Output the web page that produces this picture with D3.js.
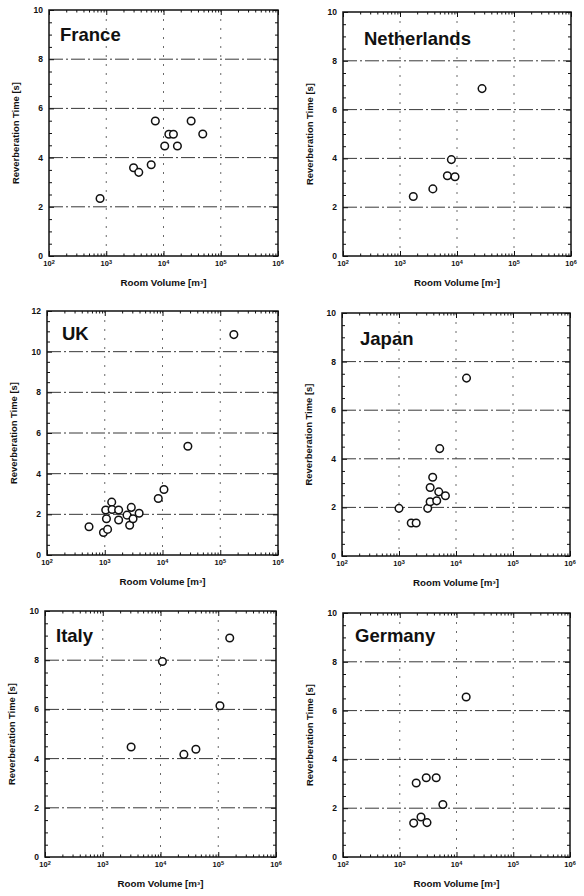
<!DOCTYPE html>
<html>
<head>
<meta charset="utf-8">
<script src="https://cdn.jsdelivr.net/npm/d3@7"></script>
<style>
  body { margin: 0; background: #fff; }
  text { font-family: "Liberation Sans", Arial, sans-serif; fill: #111; }
</style>
</head>
<body>
<svg id="fig" width="584" height="896"></svg>
<script>
// Data (room volume in m3, reverberation time in s)
const countries = ["France", "Netherlands", "UK", "Japan", "Italy", "Germany"];

const franceVol = [780, 3000, 3700, 6100, 7200, 10500, 12400, 14900, 17500, 30400, 48500];
const franceRT  = [2.34, 3.59, 3.40, 3.71, 5.49, 4.47, 4.95, 4.95, 4.47, 5.49, 4.96];

const netherlandsVol = [1710, 3770, 6780, 7960, 9220, 27500];
const netherlandsRT  = [2.44, 2.75, 3.29, 3.95, 3.25, 6.86];

const ukVol = [534, 1040, 1070, 950, 1120, 1320, 1340, 1740, 1740, 2430, 2700, 2880, 3090, 3940, 8450, 10600, 27500, 172000];
const ukRT  = [1.39, 2.21, 1.78, 1.11, 1.26, 2.60, 2.24, 2.21, 1.72, 1.96, 1.46, 2.34, 1.78, 2.05, 2.78, 3.22, 5.35, 10.84];

const japanVol = [1000, 1640, 2000, 3190, 3520, 3520, 3900, 4590, 4980, 6520, 5180, 15300];
const japanRT  = [1.96, 1.36, 1.36, 1.96, 2.23, 2.82, 3.24, 2.27, 2.64, 2.48, 4.42, 7.32];

const italyVol = [3100, 10800, 25400, 41000, 107000, 158000];
const italyRT  = [4.47, 7.95, 4.17, 4.38, 6.15, 8.90];

const germanyVol = [1950, 2930, 4390, 5750, 1760, 2370, 3020, 14800];
const germanyRT  = [3.03, 3.25, 3.25, 2.15, 1.39, 1.64, 1.41, 6.56];

const yMax = [10, 10, 12, 10, 10, 10];
const decades = [100, 1000, 10000, 100000, 1000000];
const xLabel = "Room Volume  [m\u00b3]";
const yLabel = "Reverberation Time  [s]";

const volumes = [franceVol, netherlandsVol, ukVol, japanVol, italyVol, germanyVol];
const times = [franceRT, netherlandsRT, ukRT, japanRT, italyRT, germanyRT];

// panel boxes in page pixels: left, top, right, bottom
const boxes = [
  [49, 10, 278, 256],
  [343, 12, 571, 256],
  [47, 311, 278, 555],
  [342, 313, 570, 556],
  [45, 611, 276, 857],
  [343, 613, 570, 857]
];
// title offsets inside panel
const titlePos = [[11, 31], [21, 33], [15, 29], [18, 32], [11, 31], [12, 29]];

const svg = d3.select("#fig");
const minorX = [];
decades.slice(0, -1).forEach(d => { for (let k = 2; k <= 9; k++) minorX.push(d * k); });

countries.forEach(function(name, i) {
  const [x0, y0, x1, y1] = boxes[i];
  const w = x1 - x0, h = y1 - y0;
  const g = svg.append("g").attr("transform", `translate(${x0},${y0})`);

  const x = d3.scaleLog().domain([100, 1e6]).range([0, w]);
  const y = d3.scaleLinear().domain([0, yMax[i]]).range([h, 0]);
  const yTicks = d3.range(0, yMax[i] + 1, 2);
  const yMinor = d3.range(0, yMax[i] + 0.01, 0.5).filter(v => v % 2 !== 0);

  // grid lines, dash-dot like the scan
  g.append("g").selectAll("line")
    .data(yTicks.slice(1, -1))
    .enter().append("line")
    .attr("x1", 0).attr("x2", w)
    .attr("y1", d => y(d)).attr("y2", d => y(d))
    .attr("stroke", "#222").attr("stroke-width", 0.9)
    .attr("stroke-dasharray", "14,3,2,3");

  g.append("g").selectAll("line")
    .data(decades.slice(1, -1))
    .enter().append("line")
    .attr("x1", d => x(d)).attr("x2", d => x(d))
    .attr("y1", 0).attr("y2", h)
    .attr("stroke", "#444").attr("stroke-width", 0.8)
    .attr("stroke-dasharray", "2,7");

  // axes with inward ticks
  const addAxis = (axis, tx, ty) => {
    const a = g.append("g").attr("transform", `translate(${tx},${ty})`).call(axis);
    a.select(".domain").remove();
    a.selectAll("line").attr("stroke", "#111").attr("stroke-width", 1);
    return a;
  };
  addAxis(d3.axisLeft(y).tickValues(yTicks).tickSize(-5).tickFormat(""), 0, 0);
  addAxis(d3.axisRight(y).tickValues(yTicks).tickSize(-5).tickFormat(""), w, 0);
  addAxis(d3.axisLeft(y).tickValues(yMinor).tickSize(-3).tickFormat(""), 0, 0);
  addAxis(d3.axisRight(y).tickValues(yMinor).tickSize(-3).tickFormat(""), w, 0);
  addAxis(d3.axisBottom(x).tickValues(decades).tickSize(-5).tickFormat(""), 0, h);
  addAxis(d3.axisTop(x).tickValues(decades).tickSize(-5).tickFormat(""), 0, 0);
  addAxis(d3.axisBottom(x).tickValues(minorX).tickSize(-2.5).tickFormat(""), 0, h);
  addAxis(d3.axisTop(x).tickValues(minorX).tickSize(-2.5).tickFormat(""), 0, 0);

  // frame
  g.append("rect").attr("width", w).attr("height", h)
    .attr("fill", "none").attr("stroke", "#111").attr("stroke-width", 1.5);

  // y tick labels
  g.append("g").selectAll("text")
    .data(yTicks)
    .enter().append("text")
    .attr("x", -6).attr("y", d => y(d)).attr("dy", "0.35em")
    .attr("text-anchor", "end")
    .attr("font-size", 8.5).attr("font-weight", "bold")
    .text(d => d);

  // x tick labels 10^n
  const xl = g.append("g").selectAll("text")
    .data(decades)
    .enter().append("text")
    .attr("x", d => x(d)).attr("y", h + 10)
    .attr("text-anchor", "middle")
    .attr("font-size", 7.5).attr("font-weight", "bold");
  xl.append("tspan").text("10");
  xl.append("tspan").attr("dy", -2.5).attr("font-size", 5.5).text(d => Math.round(Math.log10(d)));

  // axis titles
  g.append("text")
    .attr("x", w / 2).attr("y", h + 30)
    .attr("text-anchor", "middle")
    .attr("font-size", 8.5).attr("font-weight", "bold")
    .attr("textLength", 86).attr("lengthAdjust", "spacingAndGlyphs")
    .text(xLabel);
  g.append("text")
    .attr("transform", `translate(${-30},${h / 2}) rotate(-90)`)
    .attr("text-anchor", "middle")
    .attr("font-size", 8.5).attr("font-weight", "bold")
    .attr("textLength", 102).attr("lengthAdjust", "spacingAndGlyphs")
    .text(yLabel);

  // country title
  g.append("text")
    .attr("x", titlePos[i][0]).attr("y", titlePos[i][1])
    .attr("font-size", 18.5).attr("font-weight", "bold")
    .text(name);

  // points
  g.append("g").selectAll("circle")
    .data(volumes[i].map((v, k) => ({ v: v, t: times[i][k] })))
    .enter().append("circle")
    .attr("cx", d => x(d.v)).attr("cy", d => y(d.t))
    .attr("r", 3.8)
    .attr("fill", "#fff").attr("stroke", "#111").attr("stroke-width", 1.5);
});
</script>
</body>
</html>
